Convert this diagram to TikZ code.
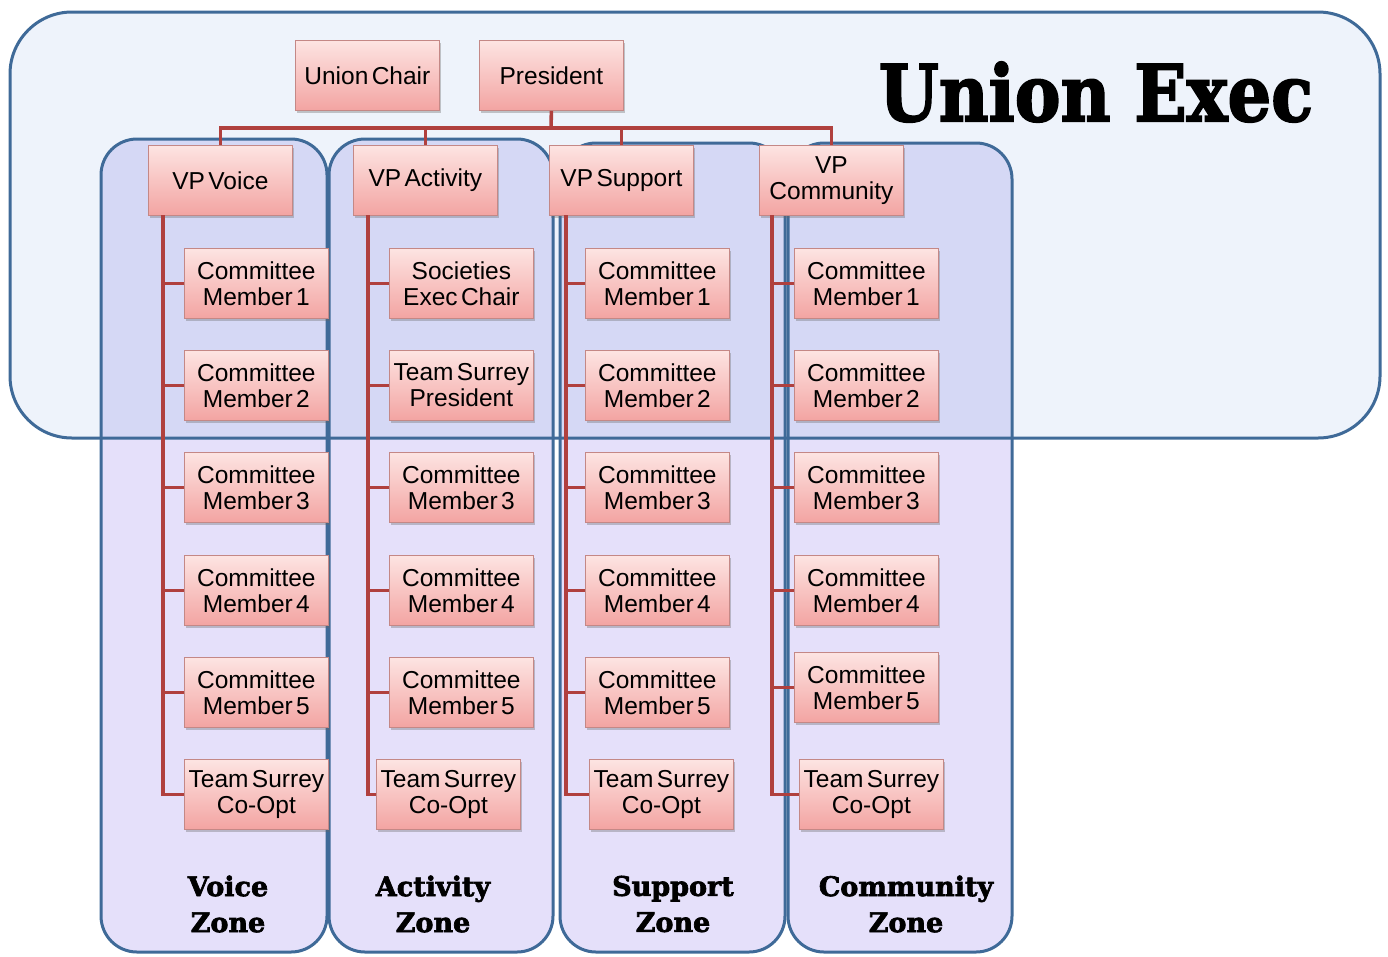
\documentclass[tikz,border=0pt]{standalone}
\usepackage{fontspec}
\usepackage{graphicx}
\setmainfont{Liberation Sans}[WordSpace=0.5]
\newfontfamily\slab{DejaVu Serif}[BoldFeatures={FakeBold=2.5}]
\usetikzlibrary{shadows}
\definecolor{execfill}{HTML}{EEF3FB}
\definecolor{execline}{HTML}{3F6A98}
\definecolor{zonefill}{HTML}{E5E0FA}
\definecolor{zonein}{HTML}{D5D8F5}
\definecolor{boxtop}{HTML}{FDE4E2}
\definecolor{boxbot}{HTML}{F3A4A2}
\definecolor{boxline}{HTML}{C48886}
\definecolor{conncol}{HTML}{B0403E}
\begin{document}
\begin{tikzpicture}[x=1pt,y=-1pt,
  rolebox/.style={draw=boxline,line width=0.8pt,top color=boxtop,bottom color=boxbot,
    minimum width=144pt,minimum height=70pt,anchor=north west,inner sep=1pt,
    align=center,font=\fontsize{24.5}{26}\selectfont,
    drop shadow={shadow xshift=1.5pt,shadow yshift=-2.5pt,opacity=0.35,fill=black!60}},
  conn/.style={draw=conncol,line width=3.6pt},
  zoneline/.style={draw=execline,line width=3pt},
  zonelabel/.style={font=\slab\bfseries\fontsize{27}{36}\selectfont,align=center}]
\useasboundingbox (0,0) rectangle (1388,956);
% exec box fill
\fill[execfill] (10,12) [rounded corners=62pt] rectangle (1380,438);
% zones fill
\foreach \xa/\xb/\yt in {101/327/139,329/553/139,560/785/143,788/1012/143}{
  \fill[zonefill,rounded corners=36pt] (\xa,\yt) rectangle (\xb,952);
}
\begin{scope}
  \clip[rounded corners=62pt] (10,12) rectangle (1380,438);
  \foreach \xa/\xb/\yt in {101/327/139,329/553/139,560/785/143,788/1012/143}{
    \fill[zonein,rounded corners=36pt] (\xa,\yt) rectangle (\xb,952);
  }
\end{scope}
\foreach \xa/\xb/\yt in {101/327/139,329/553/139,560/785/143,788/1012/143}{
  \draw[zoneline,rounded corners=36pt] (\xa,\yt) rectangle (\xb,952);
}
\draw[zoneline,rounded corners=62pt] (10,12) rectangle (1380,438);

% title
\node[font=\slab\bfseries\fontsize{78}{80}\selectfont,anchor=center] (title) at (1096,92) {\scalebox{0.88}[1]{Union Exec}};

% top boxes
\node[rolebox] (chair) at (295,40) {Union Chair};
\node[rolebox] (pres) at (479,40) {President};
\node[rolebox] (vpv) at (148,145) {VP Voice};
\node[rolebox] (vpa) at (353,145) {VP Activity};
\node[rolebox] (vps) at (549,145) {VP Support};
\node[rolebox] (vpc) at (759,145) {VP\\Community};
\coordinate (bus) at (551,128);
\draw[conn] (pres.south) -- (bus);
\draw[conn] (vpv.north) |- (bus) -| (vpc.north);
\draw[conn] (vpa.north) -- (vpa.north |- bus);
\draw[conn] (vps.north) -- (vps.north |- bus);

% voice column
\node[rolebox] (v1) at (184,248) {Committee\\Member 1};
\node[rolebox] (v2) at (184,350) {Committee\\Member 2};
\node[rolebox] (v3) at (184,452) {Committee\\Member 3};
\node[rolebox] (v4) at (184,555) {Committee\\Member 4};
\node[rolebox] (v5) at (184,657) {Committee\\Member 5};
\node[rolebox] (v6) at (184,759) {Team Surrey\\Co-Opt};
% activity column
\node[rolebox] (a1) at (389,248) {Societies\\Exec Chair};
\node[rolebox] (a2) at (389,350) {Team Surrey\\President};
\node[rolebox] (a3) at (389,452) {Committee\\Member 3};
\node[rolebox] (a4) at (389,555) {Committee\\Member 4};
\node[rolebox] (a5) at (389,657) {Committee\\Member 5};
\node[rolebox] (a6) at (376,759) {Team Surrey\\Co-Opt};
% support column
\node[rolebox] (s1) at (585,248) {Committee\\Member 1};
\node[rolebox] (s2) at (585,350) {Committee\\Member 2};
\node[rolebox] (s3) at (585,452) {Committee\\Member 3};
\node[rolebox] (s4) at (585,555) {Committee\\Member 4};
\node[rolebox] (s5) at (585,657) {Committee\\Member 5};
\node[rolebox] (s6) at (589,759) {Team Surrey\\Co-Opt};
% community column
\node[rolebox] (c1) at (794,248) {Committee\\Member 1};
\node[rolebox] (c2) at (794,350) {Committee\\Member 2};
\node[rolebox] (c3) at (794,452) {Committee\\Member 3};
\node[rolebox] (c4) at (794,555) {Committee\\Member 4};
\node[rolebox] (c5) at (794,652) {Committee\\Member 5};
\node[rolebox] (c6) at (799,759) {Team Surrey\\Co-Opt};

% column connectors
\coordinate (vt) at (163,215);
\coordinate (at) at (368,215);
\coordinate (st) at (566,215);
\coordinate (ct) at (772,215);
\foreach \c/\t in {v/vt,a/at,s/st,c/ct}{
  \draw[conn] (\t) |- (\c6.west);
  \foreach \i in {1,...,5}{
    \draw[conn] (\c\i.west) -- (\c\i.west -| \t);
  }
}

% zone labels
\node[zonelabel] (zv) at (228,904) {Voice\\Zone};
\node[zonelabel] (za) at (433,904) {Activity\\Zone};
\node[zonelabel] (zs) at (673,904) {Support\\Zone};
\node[zonelabel] (zc) at (906,904) {Community\\Zone};
\end{tikzpicture}
\end{document}
